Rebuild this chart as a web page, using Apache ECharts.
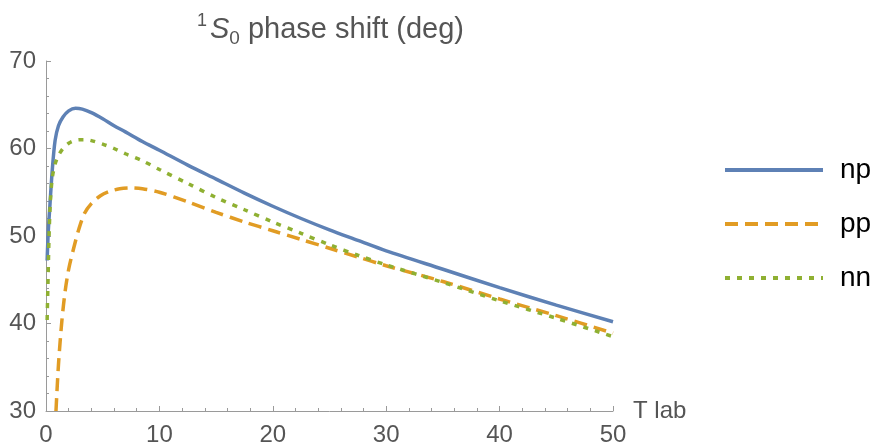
<!DOCTYPE html>
<html>
<head>
<meta charset="utf-8">
<script src="https://cdn.jsdelivr.net/npm/echarts@6/dist/echarts.min.js"></script>
<style>
  html, body { margin: 0; padding: 0; background: #fff; }
  #chart { width: 876px; height: 447px; }
</style>
</head>
<body>
<div id="chart"></div>
<script>
// 1S0 phase shift vs T lab
const npX = [0.1, 0.2, 0.35, 0.55, 0.8, 1.1, 1.5, 2, 2.6, 3.2, 4, 5, 6, 7, 8.5, 10, 12.5, 15, 17.5, 20, 22.5, 25, 27.5, 30, 35, 40, 45, 50];
const npY = [47.2, 50.5, 53.6, 57.5, 60.9, 62.6, 63.6, 64.3, 64.6, 64.5, 64.1, 63.4, 62.6, 61.9, 60.8, 59.8, 58.1, 56.5, 54.9, 53.4, 52.0, 50.7, 49.5, 48.3, 46.2, 44.1, 42.1, 40.2];

const ppX = [0.88, 1.1, 1.4, 1.7, 2, 2.4, 2.9, 3.4, 4, 4.8, 5.6, 6.5, 7.5, 8.5, 10, 12.5, 15, 17.5, 20, 22.5, 25, 27.5, 30, 35, 40, 45, 50];
const ppY = [30, 35.3, 40.3, 43.8, 46.2, 48.4, 50.8, 52.6, 53.7, 54.6, 55.1, 55.4, 55.5, 55.4, 55.0, 53.9, 52.7, 51.6, 50.6, 49.6, 48.6, 47.6, 46.6, 44.8, 42.8, 40.9, 38.9];

const nnX = [0.1, 0.18, 0.27, 0.38, 0.55, 0.8, 1.1, 1.5, 2, 2.5, 3, 3.5, 4, 5, 6, 7, 8.5, 10, 12.5, 15, 17.5, 20, 22.5, 25, 27.5, 30, 35, 40, 45, 50];
const nnY = [40.4, 45.0, 50.0, 53.8, 56.6, 58.2, 59.2, 60.0, 60.6, 60.9, 61.0, 61.0, 60.9, 60.5, 60.0, 59.4, 58.6, 57.6, 56.0, 54.4, 53.0, 51.6, 50.3, 49.0, 47.8, 46.7, 44.7, 42.6, 40.6, 38.5];

const seriesNames = ['np', 'pp', 'nn'];
const xTicks = { min: 0, max: 50, interval: 10 };
const yTicks = { min: 30, max: 70, interval: 10 };

const font = '"Liberation Sans", Arial, Helvetica, sans-serif';
const gray = '#555';
const axisGray = '#9a9a9a';

const zip = (xs, ys) => xs.map((x, i) => [x, ys[i]]);

const axisCommon = {
  type: 'value',
  splitLine: { show: false },
  axisLine: { show: true, lineStyle: { color: axisGray, width: 1 } },
  axisTick: { show: true, inside: true, length: 5, lineStyle: { color: axisGray } },
  minorTick: { show: true, splitNumber: 5, length: 3, lineStyle: { color: axisGray } },
  axisLabel: { color: gray, fontSize: 24, fontFamily: font },
};

const lineSeries = (name, xs, ys, color, type) => ({
  name, type: 'line', data: zip(xs, ys),
  symbol: 'none', smooth: 0.3, clip: true,
  lineStyle: { color, width: 3.5, type },
  itemStyle: { color },
});

const chart = echarts.init(document.getElementById('chart'));
chart.setOption({
  animation: false,
  backgroundColor: '#fff',
  title: {
    text: '{sup|1}{it|S}{sub|0} phase shift (deg)',
    left: 192,
    top: 7,
    textStyle: {
      fontSize: 29,
      fontWeight: 'normal',
      color: gray,
      fontFamily: font,
      lineHeight: 36,
      rich: {
        sup: { fontSize: 18, color: gray, fontFamily: font, lineHeight: 18, verticalAlign: 'top', padding: [0, 3, 0, 0] },
        it: { fontSize: 29, color: gray, fontFamily: font, fontStyle: 'italic', lineHeight: 36 },
        sub: { fontSize: 19, color: gray, fontFamily: font, lineHeight: 18, verticalAlign: 'bottom' },
      },
    },
  },
  legend: {
    data: seriesNames,
    orient: 'vertical',
    left: 723,
    top: 156,
    padding: 0,
    itemWidth: 98,
    itemHeight: 30,
    itemGap: 26,
    itemStyle: { opacity: 0 },
    lineStyle: { width: 4 },
    textStyle: { fontSize: 28, color: '#000', fontFamily: font, padding: [0, 0, 0, 12] },
  },
  grid: { left: 46, right: 263, top: 61, bottom: 36, containLabel: false },
  xAxis: {
    ...axisCommon,
    ...xTicks,
    name: 'T lab',
    nameLocation: 'end',
    nameGap: 20,
    nameTextStyle: { color: gray, fontSize: 24, fontFamily: font },
    axisLabel: { ...axisCommon.axisLabel, margin: 12 },
  },
  yAxis: {
    ...axisCommon,
    ...yTicks,
    axisLabel: { ...axisCommon.axisLabel, margin: 10 },
  },
  series: [
    lineSeries('np', npX, npY, '#5E81B5', 'solid'),
    lineSeries('pp', ppX, ppY, '#E19C24', [13, 7]),
    lineSeries('nn', nnX, nnY, '#8FB032', [5, 7]),
  ],
});
</script>
</body>
</html>
